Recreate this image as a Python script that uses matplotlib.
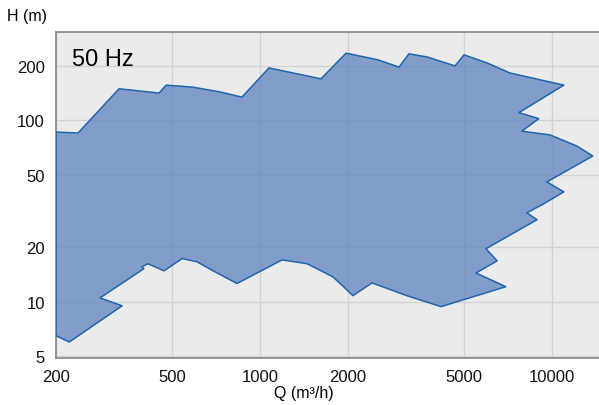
import matplotlib
matplotlib.use("Agg")
from matplotlib import pyplot as plt
from matplotlib.ticker import NullLocator

# envelope of the performance range (Q in m3/h, H in m), traced clockwise
q = [200, 238, 329, 451, 477, 590, 730, 867, 1073, 1618, 1971, 2536, 2995,
     3237, 3735, 4656, 5000, 5984, 7178, 10990, 7705, 9019, 7890, 9840,
     12190, 13800, 9610, 10990, 9250, 8210, 8890, 5946, 6490, 5495, 6950,
     4170, 3185, 2420, 2080, 1923, 1778, 1567, 1448, 1190, 834, 691, 608,
     541, 469, 413, 394, 400, 283, 337, 222, 200]
h = [86, 85, 149, 141, 156, 152, 143, 134, 194, 169, 234, 215, 196,
     232, 223, 199, 229, 207, 182, 156, 110, 102, 87, 83,
     72, 63.5, 45.7, 40.3, 34.2, 30.9, 28.3, 19.6, 16.8, 14.4, 12.1,
     9.4, 10.8, 12.7, 10.8, 12.2, 13.7, 15.2, 16.2, 17.0, 12.6, 14.8, 16.6,
     17.3, 14.8, 16.2, 15.6, 15.2, 10.5, 9.5, 6.0, 6.5]

xticks = [200, 500, 1000, 2000, 5000, 10000]
yticks = [5, 10, 20, 50, 100, 200]

plt.rcParams["font.family"] = ["Liberation Sans", "DejaVu Sans"]

fig = plt.figure(figsize=(5.99, 4.06), dpi=100)
ax = fig.add_axes([56/599, 47/406, 543/599, 326/406])
ax.set_facecolor("#ebebeb")

ax.fill(q, h, facecolor="#5f83be", alpha=0.75, edgecolor="none", zorder=3)
ax.plot(q + [q[0]], h + [h[0]], color="#1f64ad", lw=1.1, zorder=4)

ax.set_xscale("log")
ax.set_yscale("log")
ax.set_xlim(200, 14500)
ax.set_ylim(4.9, 306)
ax.set_xticks(xticks)
ax.set_xticklabels([str(t) for t in xticks])
ax.set_yticks(yticks)
ax.set_yticklabels([str(t) for t in yticks])
ax.xaxis.set_minor_locator(NullLocator())
ax.yaxis.set_minor_locator(NullLocator())
ax.tick_params(length=0, labelsize=12, colors="#111111")
ax.tick_params(axis="x", pad=8)
ax.tick_params(axis="y", pad=8)
ax.grid(True, color="#d2d2d2", lw=1, zorder=1)
ax.set_axisbelow(True)

for s in ["left", "bottom", "top"]:
    ax.spines[s].set_color("#8c8c8c")
    ax.spines[s].set_linewidth(1.3)
ax.spines["right"].set_visible(False)

fig.text(27/599, 1 - 17/406, "H (m)", ha="center", va="center", fontsize=11.5)
fig.text(304/599, 1 - 394/406, "Q (m³/h)", ha="center", va="center", fontsize=11.5)
fig.text(72/599, 1 - 60/406, "50 Hz", ha="left", va="center", fontsize=17)

fig.savefig("out.png", dpi=100)
